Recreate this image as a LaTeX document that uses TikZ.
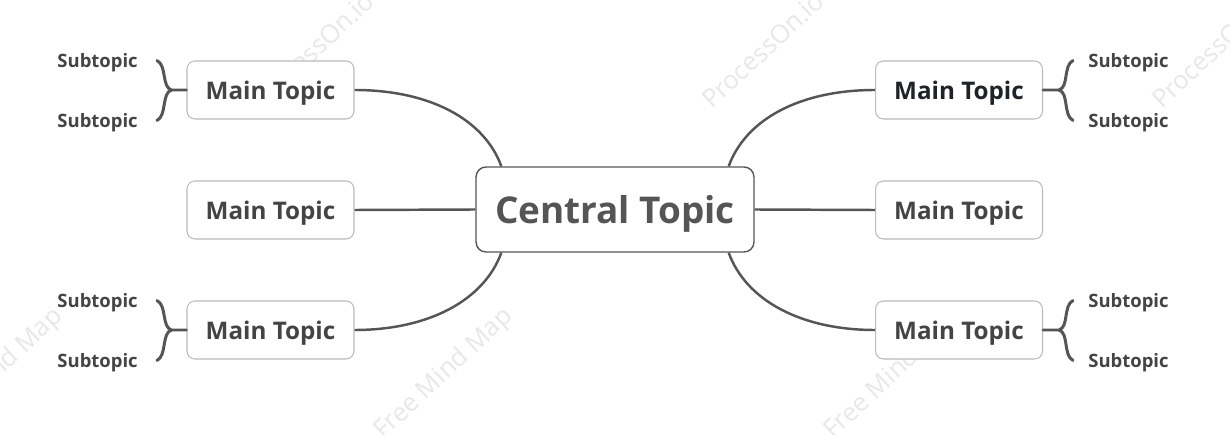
\documentclass[tikz,border=0pt]{standalone}
\usepackage{fontspec}
\setmainfont{Open Sans}
\setsansfont{Open Sans}
\usepackage{tikz}
\usetikzlibrary{arrows.meta,positioning,calc}
\definecolor{bk80}{HTML}{444444}
\definecolor{bk70}{HTML}{555555}
\definecolor{bk30}{HTML}{BBBBBB}
\definecolor{bk10}{HTML}{E8E8E8}
\definecolor{ink}{HTML}{1F2329}
\tikzset{
  centralbox/.style={
    rectangle, rounded corners=0.2cm, draw=bk70, fill=white, line width=0.8pt,
    minimum width=5.56cm, minimum height=1.7cm,
    font=\fontsize{21}{21}\selectfont\bfseries, text=bk70,
    text depth=0pt, inner sep=0pt
  },
  topicbox/.style={
    rectangle, rounded corners=0.16cm, draw=bk30, fill=white, line width=0.6pt,
    minimum width=3.34cm, minimum height=1.16cm,
    font=\fontsize{13.8}{13.8}\selectfont\bfseries, text=#1,
    text depth=0pt, inner sep=0pt
  },
  topicbox/.default=bk80,
  subtext/.style={
    font=\fontsize{10.5}{10.5}\selectfont\bfseries, text=bk80,
    text depth=0pt, inner sep=0pt
  },
  branch/.style={
    line width=1.4pt, color=bk70
  },
  bracket/.style={
    line width=1.7pt, color=bk70, line cap=round
  },
  wmark/.style={
    font=\fontsize{14.5}{14.5}\selectfont, text=bk10,
    rotate=43, anchor=base west, inner sep=0pt
  },
}
\begin{document}
\begin{tikzpicture}[x=0.02cm, y=-0.02cm]
  \clip (0,0) rectangle (1230,435);
  \fill[white] (0,0) rectangle (1230,435);

  % Watermarks
  \node[wmark] (wmP1) at (262,110) {ProcessOn.io};
  \node[wmark] (wmP2) at (712,110) {ProcessOn.io};
  \node[wmark] (wmP3) at (1162,110) {ProcessOn.io};
  \node[wmark] (wmF1) at (-67,440) {Free Mind Map};
  \node[wmark] (wmF2) at (383,440) {Free Mind Map};
  \node[wmark] (wmF3) at (833,440) {Free Mind Map};

  % Central topic
  \node[centralbox] (central) at (615,209.5) {Central Topic};

  % Main topics
  \node[topicbox] (mainL1) at (270.5,90) {Main Topic};
  \node[topicbox] (mainL2) at (270.5,210) {Main Topic};
  \node[topicbox] (mainL3) at (270.5,330) {Main Topic};
  \node[topicbox=ink] (mainR1) at (959,90) {Main Topic};
  \node[topicbox] (mainR2) at (959,210) {Main Topic};
  \node[topicbox] (mainR3) at (959,330) {Main Topic};

  \draw[branch] ([xshift=0.52cm]central.north west) .. controls +(-17,-47) and +(75,0) .. (mainL1.east);
  \draw[branch] (central.west) -- (mainL2.east);
  \draw[branch] ([xshift=0.52cm]central.south west) .. controls +(-17,47) and +(75,0) .. (mainL3.east);
  \draw[branch] ([xshift=-0.52cm]central.north east) .. controls +(17,-47) and +(-75,0) .. (mainR1.west);
  \draw[branch] (central.east) -- (mainR2.west);
  \draw[branch] ([xshift=-0.52cm]central.south east) .. controls +(17,47) and +(-75,0) .. (mainR3.west);

  % Subtopics
  \node[subtext, anchor=east] (subL1a) at (138,60.5) {Subtopic};
  \node[subtext, anchor=east] (subL1b) at (138,120.5) {Subtopic};
  \node[subtext, anchor=east] (subL3a) at (138,300.5) {Subtopic};
  \node[subtext, anchor=east] (subL3b) at (138,360.5) {Subtopic};
  \node[subtext, anchor=west] (subR1a) at (1088,60.5) {Subtopic};
  \node[subtext, anchor=west] (subR1b) at (1088,120.5) {Subtopic};
  \node[subtext, anchor=west] (subR3a) at (1088,300.5) {Subtopic};
  \node[subtext, anchor=west] (subR3b) at (1088,360.5) {Subtopic};

  \draw[bracket] ([xshift=0.38cm]subL1a.east) .. controls +(10,5) and +(-10,-3) .. ([xshift=-0.3cm]mainL1.west) -- (mainL1.west);
  \draw[bracket] ([xshift=0.38cm]subL1b.east) .. controls +(10,-5) and +(-10,3) .. ([xshift=-0.3cm]mainL1.west);
  \draw[bracket] ([xshift=0.38cm]subL3a.east) .. controls +(10,5) and +(-10,-3) .. ([xshift=-0.3cm]mainL3.west) -- (mainL3.west);
  \draw[bracket] ([xshift=0.38cm]subL3b.east) .. controls +(10,-5) and +(-10,3) .. ([xshift=-0.3cm]mainL3.west);
  \draw[bracket] ([xshift=-0.3cm]subR1a.west) .. controls +(-10,5) and +(10,-3) .. ([xshift=0.32cm]mainR1.east) -- (mainR1.east);
  \draw[bracket] ([xshift=-0.3cm]subR1b.west) .. controls +(-10,-5) and +(10,3) .. ([xshift=0.32cm]mainR1.east);
  \draw[bracket] ([xshift=-0.3cm]subR3a.west) .. controls +(-10,5) and +(10,-3) .. ([xshift=0.32cm]mainR3.east) -- (mainR3.east);
  \draw[bracket] ([xshift=-0.3cm]subR3b.west) .. controls +(-10,-5) and +(10,3) .. ([xshift=0.32cm]mainR3.east);
\end{tikzpicture}
\end{document}
